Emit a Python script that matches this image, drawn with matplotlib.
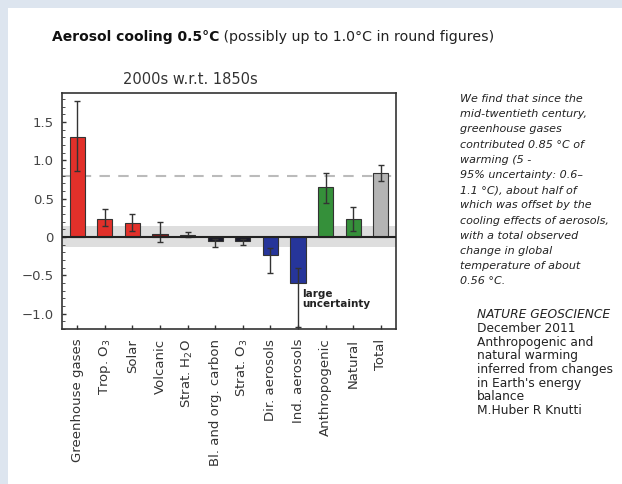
import matplotlib.pyplot as plt
from matplotlib.patches import Rectangle
from matplotlib.ticker import MultipleLocator

# contributions to warming, 2000s relative to 1850s (deg C)
labels = ['Greenhouse gases', 'Trop. O$_3$', 'Solar', 'Volcanic', 'Strat. H$_2$O',
          'Bl. and org. carbon', 'Strat. O$_3$', 'Dir. aerosols', 'Ind. aerosols',
          'Anthropogenic', 'Natural', 'Total']
values = [1.31, 0.24, 0.18, 0.04, 0.03, -0.05, -0.05, -0.24, -0.60, 0.65, 0.23, 0.83]
err_low = [0.45, 0.10, 0.10, 0.10, 0.03, 0.08, 0.05, 0.23, 0.57, 0.20, 0.15, 0.10]
err_high = [0.46, 0.12, 0.12, 0.15, 0.03, 0.03, 0.03, 0.10, 0.20, 0.18, 0.16, 0.11]
colors = ['#e2302a', '#e2302a', '#e2302a', '#7a1a1a', '#2a1a1a', '#1a1a2a', '#1a1a2a',
          '#26359a', '#26359a', '#35903a', '#35903a', '#b4b4b4']
observed = 0.8
band = (-0.13, 0.15)

paragraph = ("We find that since the\nmid-twentieth century,\ngreenhouse gases\n"
             "contributed 0.85 \u00b0C of\nwarming (5 -\n95% uncertainty: 0.6\u2013\n"
             "1.1 \u00b0C), about half of\nwhich was offset by the\n"
             "cooling effects of aerosols,\nwith a total observed\nchange in global\n"
             "temperature of about\n0.56 \u00b0C.")
reference = ["December 2011", "Anthropogenic and", "natural warming",
             "inferred from changes", "in Earth's energy", "balance", "M.Huber R Knutti"]

fig = plt.figure(figsize=(6.22, 4.84), dpi=100)
fig.patch.set_facecolor('#dde5ef')
fig.patches.append(Rectangle((8 / 622, 0), 1, 1 - 8 / 484, transform=fig.transFigure,
                             facecolor='white', edgecolor='none', zorder=-10))

ax = fig.add_axes([62 / 622, 1 - 329 / 484, 334 / 622, 236 / 484])

t1 = fig.text(52 / 622, 1 - 37 / 484, 'Aerosol cooling 0.5\u00b0C', fontsize=10,
              fontweight='bold', va='center', color='#111111')
ax.annotate(' (possibly up to 1.0\u00b0C in round figures)', xy=(1, 0.5),
            xycoords=t1, va='center', ha='left', fontsize=10.2, color='#222222',
            annotation_clip=False)
fig.text(190 / 622, 1 - 79 / 484, '2000s w.r.t. 1850s', fontsize=10.5, ha='center',
         va='center', color='#333333')

x = list(range(len(values)))
ax.axhspan(band[0], band[1], color='#dedede', zorder=0, lw=0)
ax.axhline(observed, color='#bbbbbb', ls=(0, (5, 4)), lw=1.5, zorder=1)
ax.bar(x, values, width=0.55, color=colors, edgecolor='#333333', lw=0.8, zorder=2)
ax.errorbar(x, values, yerr=[err_low, err_high], fmt='none', ecolor='#333333',
            elinewidth=1, capsize=2.5, zorder=3)
ax.axhline(0, color='#222222', lw=1.5, zorder=4)
ax.text(8.15, -0.68, 'large\nuncertainty', fontsize=7.5, fontweight='bold',
        va='top', color='#222222', linespacing=0.95)

ax.set_xlim(-0.55, len(values) - 0.45)
ax.set_ylim(-1.2, 1.88)
ax.set_xticks(x)
ax.set_xticklabels(labels, rotation=90, fontsize=9.5, color='#333333')
ax.set_yticks([-1.0, -0.5, 0, 0.5, 1.0, 1.5])
ax.set_yticklabels(['\u22121.0', '\u22120.5', '0', '0.5', '1.0', '1.5'], fontsize=9.5,
                   color='#444444')
ax.yaxis.set_minor_locator(MultipleLocator(0.1))
ax.tick_params(direction='in', length=3, width=1, color='#333333')
ax.tick_params(which='minor', direction='in', length=2, color='#333333')
ax.tick_params(axis='y', pad=6)
ax.tick_params(axis='x', pad=7)
for s in ax.spines.values():
    s.set_color('#333333')
    s.set_linewidth(1.2)

fig.text(460 / 622, 1 - 94 / 484, paragraph, fontsize=8, style='italic',
         va='top', color='#222222', linespacing=1.65)
fig.text(477 / 622, 1 - 315 / 484, 'NATURE GEOSCIENCE', fontsize=8.8, style='italic',
         va='center', color='#222222')
fig.text(477 / 622, 1 - 322 / 484, '\n'.join(reference), fontsize=8.8, va='top',
         color='#222222', linespacing=1.07)

fig.savefig('out.png', dpi=100, facecolor=fig.get_facecolor())
